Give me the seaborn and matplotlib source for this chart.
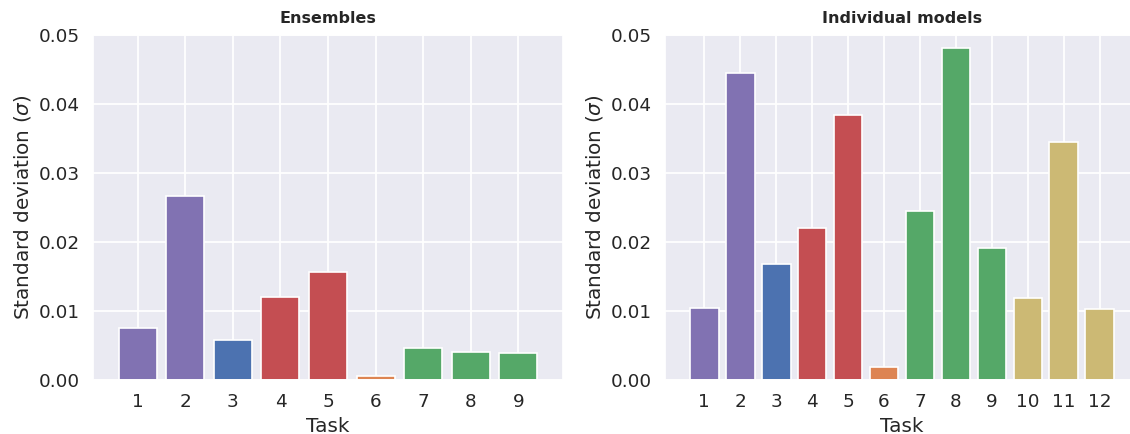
"""
Desviación estándar por tarea: ensembles vs modelos individuales.
"""

import matplotlib
matplotlib.use("Agg")
import matplotlib.pyplot as plt
import pandas as pd
import seaborn as sns

# --- datos ---
ens_tasks = [1, 2, 3, 4, 5, 6, 7, 8, 9]
ens_sd = [0.0076, 0.0267, 0.0058, 0.0120, 0.0157, 0.0006, 0.0046, 0.0041, 0.0039]
ens_colors = ["#8172B2", "#8172B2", "#4C72B0", "#C44E52", "#C44E52",
              "#DD8452", "#55A868", "#55A868", "#55A868"]

ind_tasks = [1, 2, 3, 4, 5, 6, 7, 8, 9, 10, 11, 12]
ind_sd = [0.0105, 0.0445, 0.0168, 0.0220, 0.0384, 0.0019,
          0.0245, 0.0481, 0.0192, 0.0119, 0.0345, 0.0103]
ind_colors = ["#8172B2", "#8172B2", "#4C72B0", "#C44E52", "#C44E52", "#DD8452",
              "#55A868", "#55A868", "#55A868", "#CCB974", "#CCB974", "#CCB974"]

titles = ["Ensembles", "Individual models"]

sns.set_theme(style="darkgrid", font_scale=1.2)
plt.rcParams["font.family"] = ["DejaVu Sans"]

fig = plt.figure(figsize=(11.3, 4.34), dpi=100)
ax1 = fig.add_axes([0.0823, 0.1244, 0.4159, 0.7949])
ax2 = fig.add_axes([0.5885, 0.1244, 0.4195, 0.7949])


def plot_sd(ax, tasks, sd, colors, title):
    df = pd.DataFrame({"task": [str(t) for t in tasks], "sd": sd})
    sns.barplot(data=df, x="task", y="sd", hue="task", palette=colors,
                width=0.8, saturation=1, legend=False, ax=ax,
                edgecolor="white", linewidth=1.2)
    n = len(tasks)
    ax.set_xlim(-0.5 - 0.05 * (n - 0.2), n - 0.5 + 0.05 * (n - 0.2))
    ax.set_ylim(0, 0.05)
    ax.set_yticks([0.0, 0.01, 0.02, 0.03, 0.04, 0.05])
    ax.set_yticklabels(["0.00", "0.01", "0.02", "0.03", "0.04", "0.05"])
    ax.grid(True, axis="both", color="white", linewidth=1.25)
    ax.set_axisbelow(True)
    ax.set_xlabel("Task", labelpad=4)
    ax.set_ylabel(r"Standard deviation ($\sigma$)")
    ax.set_title(title, fontsize=11.5, fontweight="bold", pad=9)


plot_sd(ax1, ens_tasks, ens_sd, ens_colors, titles[0])
plot_sd(ax2, ind_tasks, ind_sd, ind_colors, titles[1])

fig.savefig("out.png", dpi=100)
